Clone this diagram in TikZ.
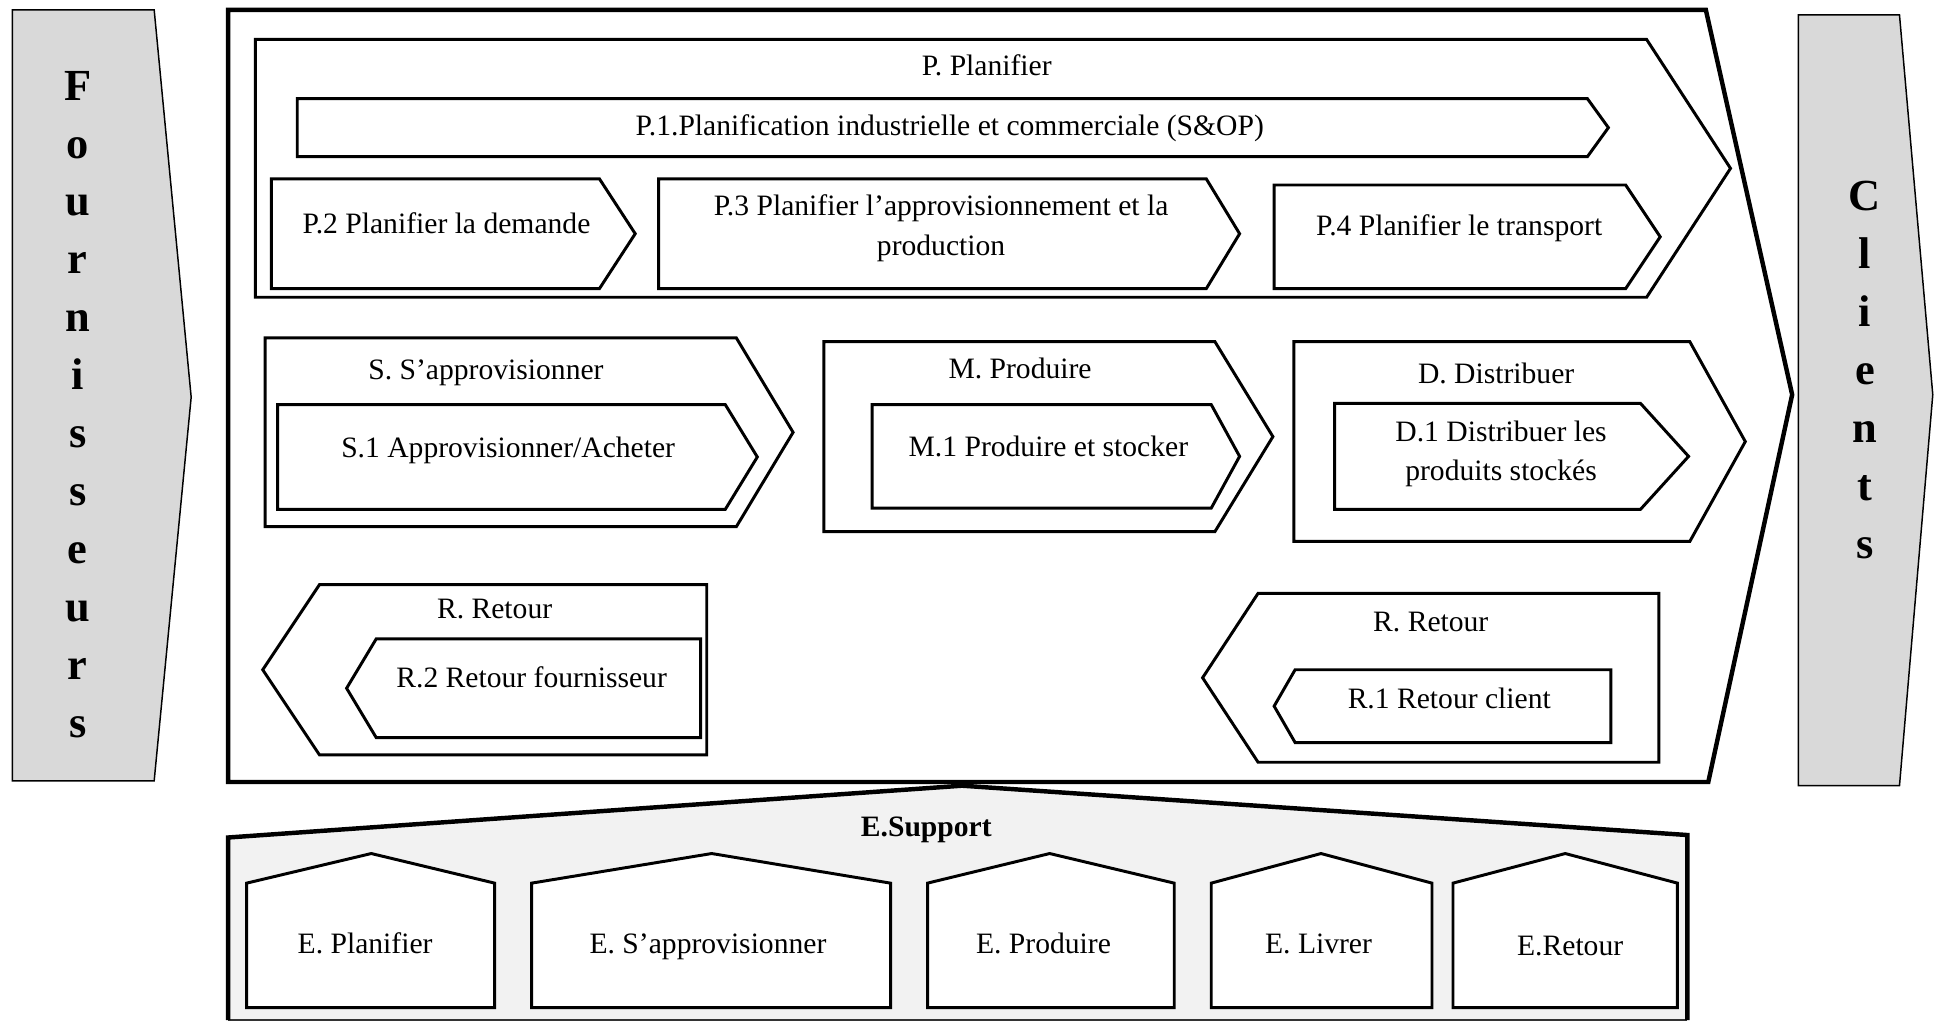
\documentclass[tikz,border=0pt]{standalone}
\usepackage{fontspec}
\setmainfont{Liberation Serif}
\definecolor{sidegray}{HTML}{D9D9D9}
\definecolor{supportgray}{HTML}{F2F2F2}
% right-pointing chevron box: x1, y1, x2, y2, tip x
\newcommand\chevR[5]{\draw[box] (#1,#2) -- (#3,#2) -- (#5,{(#2+#4)/2}) -- (#3,#4) -- (#1,#4) -- cycle;}
% left-pointing chevron box: x1 (start of slant), y1, x2 (right edge), y2, tip x
\newcommand\chevL[5]{\draw[box] (#3,#2) -- (#1,#2) -- (#5,{(#2+#4)/2}) -- (#1,#4) -- (#3,#4) -- cycle;}
% support house: left x, apex x, right x
\newcommand\house[3]{\draw[box,fill=white] (#1,817) -- (#1,716) -- (#2,692) -- (#3,716) -- (#3,817) -- cycle;}
\begin{document}
\begin{tikzpicture}[x=0.5pt,y=-0.5pt,
  frame/.style={line width=1.8pt,line join=miter},
  box/.style={line width=1.2pt,line join=miter},
  side/.style={draw=black,line width=0.6pt,fill=sidegray},
  lbl/.style={font=\fontsize{12}{16}\selectfont,align=center,inner sep=0pt},
  vert/.style={font=\fontsize{18}{23.5}\selectfont\bfseries,align=center,inner sep=0pt}]
\useasboundingbox (0,0) rectangle (1568,829);

% suppliers and customers
\draw[side] (10,8) -- (125,8) -- (155,322) -- (125,633) -- (10,633) -- cycle;
\draw[side] (1458,12) -- (1540,12) -- (1567,320) -- (1540,637) -- (1458,637) -- cycle;
\node[vert] (four) at (63,328) {F\\o\\u\\r\\n\\i\\s\\s\\e\\u\\r\\s};
\node[vert] (cli) at (1512,300) {C\\l\\i\\e\\n\\t\\s};

% main process frame
\draw[frame] (185,8) -- (1383,8) -- (1453,320) -- (1385,634) -- (185,634) -- cycle;

% planning
\chevR{207}{32}{1335}{241}{1403}
\chevR{241}{80}{1287}{127}{1304}
\chevR{220}{145}{486}{234}{515}
\chevR{534}{145}{978}{234}{1005}
\chevR{1033}{150}{1318}{234}{1346}

% source, make, deliver
\chevR{215}{274}{597}{427}{643}
\chevR{225}{328}{588}{413}{614}
\chevR{668}{277}{985}{431}{1032}
\chevR{707}{328}{982}{412}{1005}
\chevR{1049}{277}{1370}{439}{1415}
\chevR{1082}{327}{1330}{413}{1369}

% returns
\chevL{259}{474}{573}{612}{213}
\chevL{305}{518}{568}{598}{281}
\chevL{1020}{481}{1345}{618}{975}
\chevL{1050}{543}{1306}{602}{1033}

% support layer
\fill[supportgray] (185,679) -- (780,637) -- (1368,677) -- (1368,827) -- (185,827) -- cycle;
\draw[line width=0.6pt,draw=black!80] (185,827) -- (1368,827);
\draw[frame] (185,827) -- (185,679) -- (780,637) -- (1368,677) -- (1368,827);
\house{200}{301}{401}
\house{431}{577}{722}
\house{752}{851}{952}
\house{982}{1071}{1161}
\house{1178}{1269}{1360}

% labels
\node[lbl] (pP) at (800,53) {P. Planifier};
\node[lbl] (p1) at (770,104) {P.1.Planification industrielle et commerciale (S\&OP)};
\node[lbl] (p2) at (362,181) {P.2 Planifier la demande};
\node[lbl] (p3) at (763,185) {P.3 Planifier l’approvisionnement et la\\production};
\node[lbl] (p4) at (1183,185) {P.4 Planifier le transport};
\node[lbl] (sS) at (394,302) {S. S’approvisionner};
\node[lbl] (s1) at (412,365) {S.1 Approvisionner/Acheter};
\node[lbl] (mM) at (827,299) {M. Produire};
\node[lbl] (m1) at (850,362) {M.1 Produire et stocker};
\node[lbl] (dD) at (1213,303) {D. Distribuer};
\node[lbl] (d1) at (1217,368) {D.1 Distribuer les\\produits stockés};
\node[lbl] (rL) at (401,494) {R. Retour};
\node[lbl] (r2) at (431,549) {R.2 Retour fournisseur};
\node[lbl] (rR) at (1160,504) {R. Retour};
\node[lbl] (r1) at (1175,566) {R.1 Retour client};
\node[lbl,font=\fontsize{12}{16}\selectfont\bfseries] (eS) at (751,673) {E.Support};
\node[lbl] (e1) at (296,765) {E. Planifier};
\node[lbl] (e2) at (574,768) {E. S’approvisionner};
\node[lbl] (e3) at (846,765) {E. Produire};
\node[lbl] (e4) at (1069,765) {E. Livrer};
\node[lbl] (e5) at (1273,767) {E.Retour};
\end{tikzpicture}
\end{document}
